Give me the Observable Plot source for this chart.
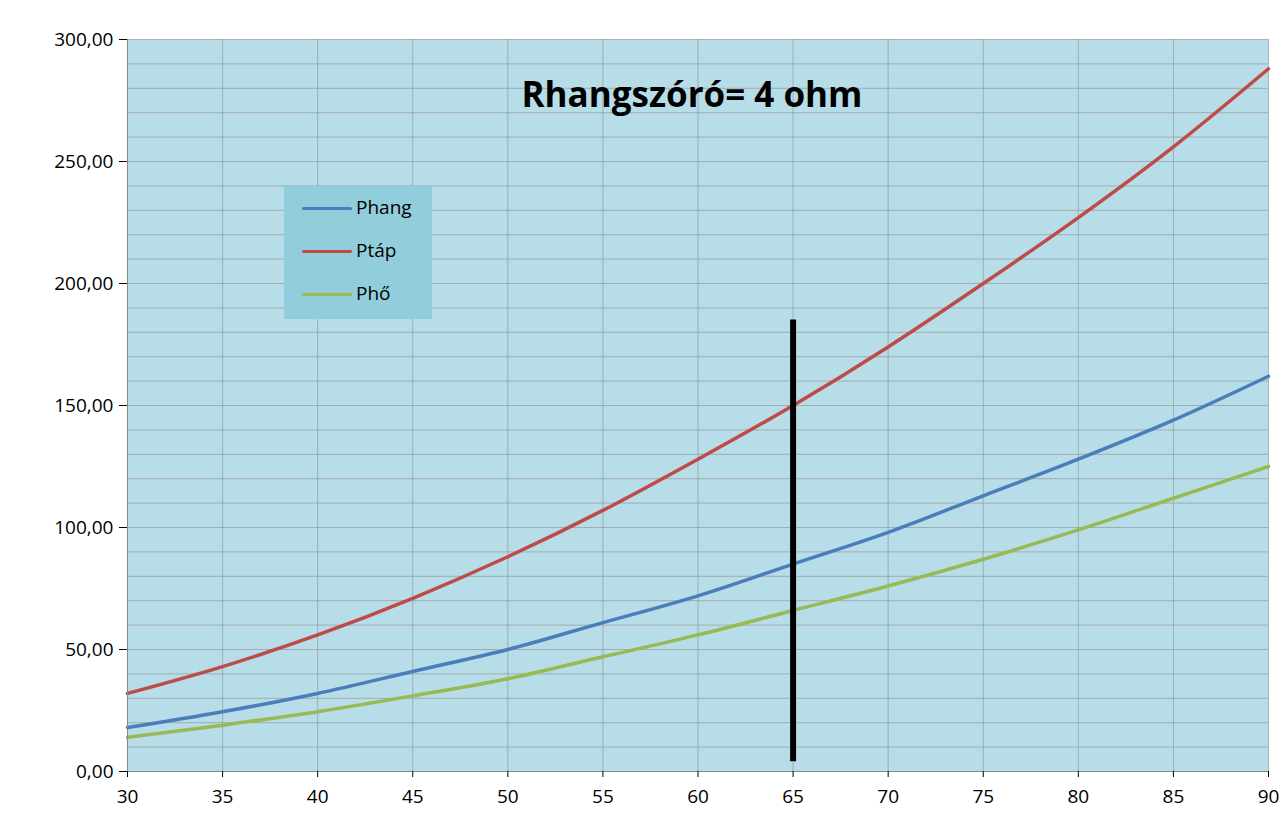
<!DOCTYPE html>
<html><head><meta charset="utf-8">
<script src="https://cdn.jsdelivr.net/npm/d3@7"></script>
<script src="https://cdn.jsdelivr.net/npm/@observablehq/plot@0.6"></script>
<style>
body{margin:0;background:#fff;font-family:"Open Sans",sans-serif;}
#wrap{position:relative;width:1280px;height:815px;}
#title{position:absolute;left:0;width:1384px;top:70px;text-align:center;font-size:35px;font-weight:bold;color:#000;}
#legend{position:absolute;left:284px;top:186px;width:148px;height:133px;background:#92cddc;}
.li{position:absolute;left:18px;font-size:19px;color:#000;}
.sw{display:inline-block;width:50px;height:3px;vertical-align:middle;margin-right:4px;border-radius:2px}
</style></head><body>
<div id="wrap"><div id="chart"></div>
<div id="title">Rhangszóró= 4 ohm</div>
<div id="legend"></div>
</div>
<script>
const xs=[30,35,40,45,50,55,60,65,70,75,80,85,90];
const phang=[18,24.5,32,41,50,61,72,85,98,113,128,144,162];
const ptap=[32,43,56,71,88,107,128,150,174,200,227,256,288];
const pho=[14,19,24.5,31,38,47,56,66,76,87,99,112,125];
const names=["Phang","Ptáp","Phő"];
const colors=["#4a7ebb","#be4b48","#98b954"];
const series=[phang,ptap,pho];
const data=series.flatMap((s,i)=>s.map((v,j)=>({x:xs[j],y:v,s:names[i]})));
const yTicks=d3.range(0,301,50);
const chart=Plot.plot({
 width:1280,height:815,marginLeft:127,marginRight:12,marginTop:39,marginBottom:44,
 style:{fontFamily:"Open Sans, sans-serif",fontSize:"19px",color:"#000",background:"#fff"},
 x:{domain:[30,90],ticks:xs,tickFormat:d=>d,label:null,tickSize:6},
 y:{domain:[0,300],ticks:yTicks,tickFormat:d=>d.toFixed(2).replace(".",","),label:null,tickSize:8},
 color:{domain:names,range:colors},
 marks:[
  Plot.frame({fill:"#b7dde8",stroke:null}),
  Plot.gridY(d3.range(10,301,10),{stroke:"#999",strokeOpacity:0.7}),
  Plot.gridX(xs,{stroke:"#999",strokeOpacity:0.7}),
  Plot.line(data,{x:"x",y:"y",stroke:"s",strokeWidth:3.5,curve:"catmull-rom"}),
  Plot.ruleX([65],{y1:4,y2:185,stroke:"#000",strokeWidth:6}),
  Plot.ruleX([30],{stroke:"#888"}),
  Plot.ruleY([0],{stroke:"#888"}),
  Plot.axisX({ticks:xs,tickFormat:d=>d,tickSize:6,tickPadding:12,label:null}),
  Plot.axisY({ticks:yTicks,tickFormat:d=>d.toFixed(2).replace(".",","),tickSize:8,tickPadding:6,label:null})
 ]
});
document.getElementById("chart").append(chart);
const lg=document.getElementById("legend");
names.forEach((n,i)=>{const d=document.createElement("div");d.className="li";d.style.top=(8+i*43)+"px";
 d.innerHTML=`<span class="sw" style="background:${colors[i]}"></span>${n}`;lg.append(d);});
</script></body></html>
